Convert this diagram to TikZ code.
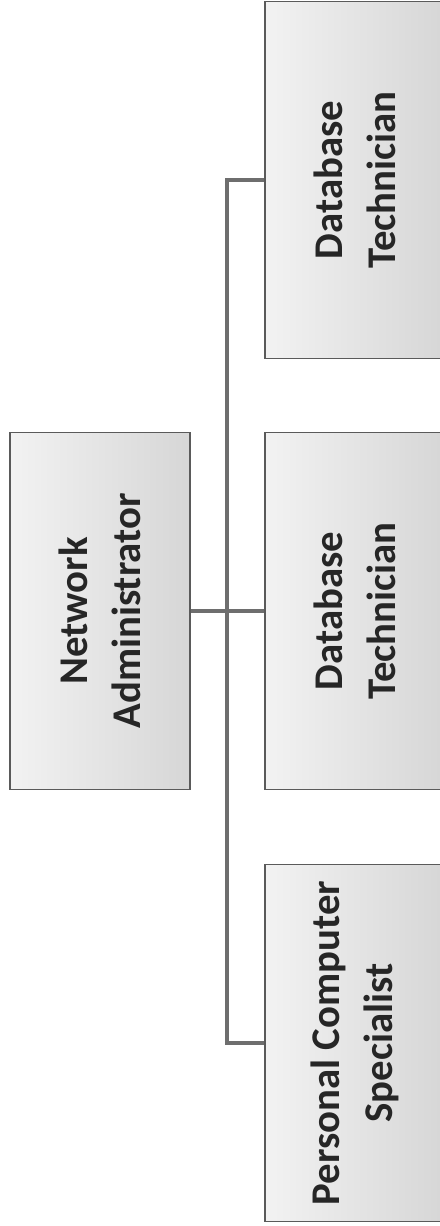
\documentclass[tikz,border=0pt]{standalone}
\usepackage{fontspec}
\setmainfont{Carlito}
\usepackage{tikz}
\usetikzlibrary{positioning}
\definecolor{boxline}{HTML}{5A5A5A}
\definecolor{wire}{HTML}{6E6E6E}

\begin{document}
\begin{tikzpicture}[
    x=0.025cm, y=-0.025cm,
    post/.style={draw=boxline, line width=1pt, rotate=90,
                 left color=gray!10, right color=gray!32,
                 minimum width=8.925cm, minimum height=4.5cm,
                 align=center, font=\fontsize{29}{38}\selectfont\bfseries,
                 text=black!85},
    wire/.style={draw=wire, line width=2.2pt},
]
\useasboundingbox (0,0) rectangle (440,1226);
\clip (0,0) rectangle (440,1226);
% boxes (rotated, so north points left on the page)
\node[post] (NA)  at (100,611)  {Network\\Administrator};
\node[post] (DB1) at (355,180)  {Database\\Technician};
\node[post] (DB2) at (355,611)  {Database\\Technician};
\node[post] (PCS) at (355,1043) {Personal Computer\\Specialist};
% spine between the head and the three posts
\coordinate (spine) at (227,180);
\draw[wire] (NA.south) -- (DB2.north);
\draw[wire] (DB1.north) -- (spine) |- (PCS.north);
\end{tikzpicture}
\end{document}
